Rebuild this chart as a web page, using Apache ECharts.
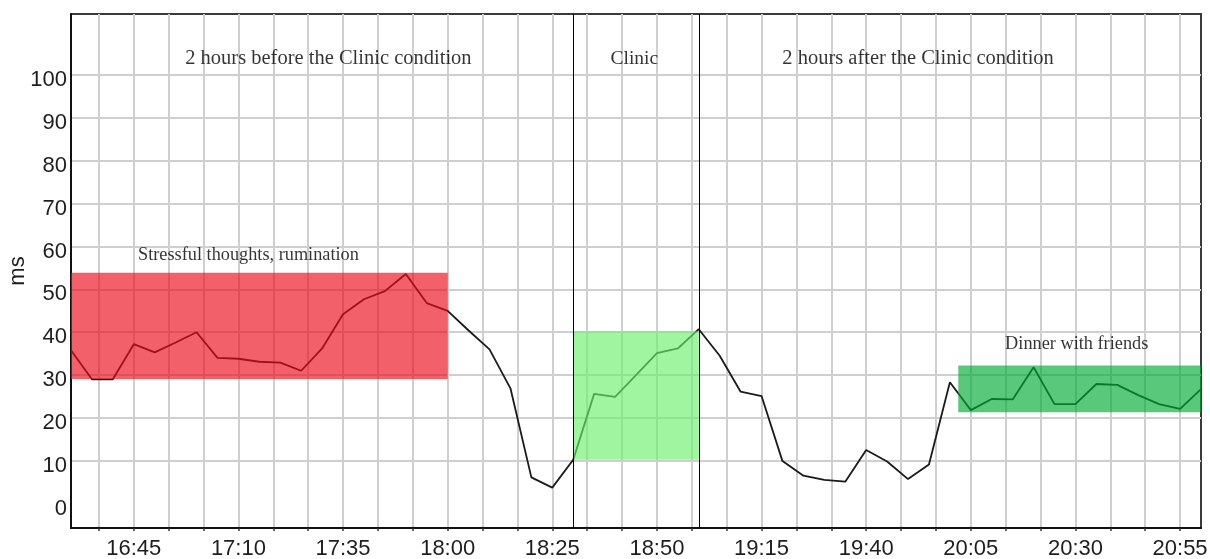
<!DOCTYPE html>
<html><head><meta charset="utf-8">
<script src="https://cdn.jsdelivr.net/npm/echarts@6/dist/echarts.min.js"></script>
<style>html,body{margin:0;padding:0;background:#fff}#c{width:1210px;height:559px}</style>
</head><body><div id="c"></div>
<script>
// ---- data ----
const times = ['16:30','16:35','16:40','16:45','16:50','16:55','17:00','17:05','17:10','17:15','17:20','17:25','17:30',
  '17:35','17:40','17:45','17:50','17:55','18:00','18:05','18:10','18:15','18:20','18:25','18:30',
  '18:35','18:40','18:45','18:50','18:55','19:00','19:05','19:10','19:15','19:20','19:25','19:30',
  '19:35','19:40','19:45','19:50','19:55','20:00','20:05','20:10','20:15','20:20','20:25','20:30',
  '20:35','20:40','20:45','20:50','20:55','21:00'];
const values = [35.8,29.0,29.0,37.2,35.3,37.6,40.0,34.0,33.8,33.1,32.9,31.0,36.2,
  44.2,47.7,49.6,53.6,46.8,45.0,40.4,36.0,26.9,6.1,3.7,10.2,
  25.6,24.9,30.0,35.1,36.2,40.7,34.5,26.1,25.1,9.9,6.5,5.5,
  5.1,12.5,9.8,5.7,9.1,28.3,21.8,24.4,24.3,31.8,23.2,23.2,
  27.9,27.7,25.3,23.2,22.1,26.7];
const xTickLabels = ['16:45','17:10','17:35','18:00','18:25','18:50','19:15','19:40','20:05','20:30','20:55'];
const yTickLabels = [0,10,20,30,40,50,60,70,80,90,100];
const yGridValues = [10,20,30,40,50,60,70,80,90,100];
const phaseBoundaries = ['18:30','19:00'];
const phaseTitles = ['2 hours before the Clinic condition','Clinic','2 hours after the Clinic condition'];
const phaseTitleTimes = ['17:31:30','18:44:36','19:52:24'];
const phaseTitleSizes = [20.5,19.5,20.5];
const phaseTitleValue = 103.9;
const boxStarts = ['16:30','18:30','20:02'];
const boxEnds   = ['18:00','19:00','21:00'];
const boxLows   = [29.1,10.2,21.3];
const boxHighs  = [53.9,40.2,32.2];
const boxColors = ['rgba(235,10,25,0.65)','rgba(109,240,109,0.65)','rgba(1,170,50,0.65)'];
const boxNotes  = ['Stressful thoughts, rumination','','Dinner with friends'];
const noteTimes = ['17:12:24','','20:30:18'];
const noteValues = [58.0,null,37.2];

// ---- helpers ----
const ORIGIN = 16*60+30;
function toMin(s){const p=s.split(':').map(Number);return p[0]*60+p[1]+(p[2]||0)/60-ORIGIN;}
function fmt(m){const t=Math.round(m+ORIGIN);const h=Math.floor(t/60),mm=t%60;return h+':'+(mm<10?'0':'')+mm;}

const step = 25/3;
const xLabelVals = xTickLabels.map(toMin);
const xGridVals = [];
for(let v=xLabelVals[0]-step; v<=270.001; v+=step) xGridVals.push(v);

const lineData = times.map((t,i)=>[toMin(t), values[i]]);
const textData = [];
phaseTitles.forEach((t,i)=>textData.push({value:[toMin(phaseTitleTimes[i]),phaseTitleValue],name:t,label:{fontSize:phaseTitleSizes[i]}}));
boxNotes.forEach((t,i)=>{ if(t) textData.push({value:[toMin(noteTimes[i]),noteValues[i]],name:t,label:{fontSize:18.3}}); });

const chart = echarts.init(document.getElementById('c'));
chart.setOption({
  animation:false,
  backgroundColor:'#fff',
  grid:{left:71,right:9,top:14,bottom:31,show:true,borderColor:'#3a3a3a',borderWidth:2,outerBoundsMode:'none',containLabel:false},
  xAxis:{type:'value',min:0,max:270,
    axisLine:{show:true,onZero:false,lineStyle:{color:'#111',width:2}},
    axisTick:{show:true,length:3,customValues:xGridVals,lineStyle:{color:'#333',width:1.5}},
    axisLabel:{customValues:xLabelVals,formatter:v=>fmt(v),fontFamily:'Liberation Sans',fontSize:22,color:'#1e1e1e',margin:10},
    splitLine:{show:true,lineStyle:{color:'#cfcfcf',width:2}}
  },
  yAxis:{type:'value',min:-5.72,max:114.3,name:'ms',nameLocation:'middle',nameGap:42,nameRotate:90,nameMoveOverlap:false,
    nameTextStyle:{fontFamily:'Liberation Sans',fontSize:22,color:'#1e1e1e'},
    axisLine:{show:true,lineStyle:{color:'#111',width:2}},
    axisTick:{show:false,customValues:yGridValues},
    axisLabel:{customValues:yTickLabels,margin:4,formatter:v=>'{a|'+v+'}',
      rich:{a:{fontFamily:'Liberation Sans',fontSize:22,color:'#1e1e1e',padding:[10,0,0,0]}}},
    splitLine:{show:true,lineStyle:{color:'#cfcfcf',width:2}}
  },
  series:[
    {type:'line',data:lineData,symbol:'none',z:2,lineStyle:{color:'#1a1a1a',width:1.8},
     markLine:{silent:true,symbol:'none',z:8,label:{show:false},lineStyle:{color:'#000',width:1,type:'solid'},
       data:phaseBoundaries.map(t=>({xAxis:toMin(t)}))}
    },
    {type:'line',data:[],z:5,
     markArea:{silent:true,z:6,
       data:boxStarts.map((s,i)=>[{xAxis:toMin(s),yAxis:boxLows[i],itemStyle:{color:boxColors[i],opacity:1}},{xAxis:toMin(boxEnds[i]),yAxis:boxHighs[i]}])}
    },
    {type:'scatter',data:textData,symbolSize:0,z:9,silent:true,
     label:{show:true,position:'inside',formatter:p=>p.name,fontFamily:'Liberation Serif',color:'#000'}}
  ]
});
</script></body></html>
